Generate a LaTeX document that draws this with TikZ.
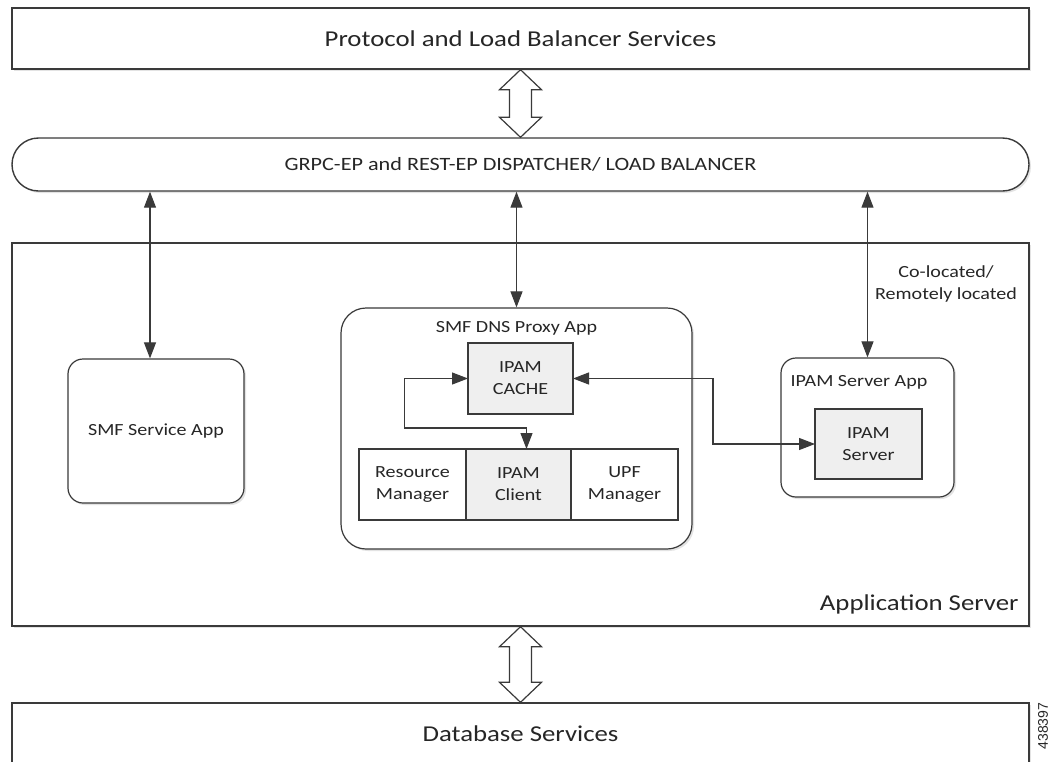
\documentclass[tikz,border=0pt]{standalone}
\usepackage{fontspec}
\setmainfont{Carlito}[FakeStretch=1.18]
\newfontfamily\idfont{Liberation Sans}
\usetikzlibrary{positioning,calc,arrows.meta,shadows}

\definecolor{linegray}{HTML}{3A3A3A}
\definecolor{fillgray}{HTML}{EFEFEF}
\definecolor{textgray}{HTML}{262626}

\tikzset{
  softshadow/.style={drop shadow={opacity=.22, shadow xshift=2pt, shadow yshift=-2pt}},
  bigbox/.style={draw=linegray, line width=1.4pt, fill=white, softshadow, minimum width=1017pt,
    inner sep=0pt, text=textgray, font=\fontsize{22.7}{26}\selectfont},
  appbox/.style={draw=linegray, line width=1.2pt, fill=white, softshadow, rounded corners=15pt,
    text=textgray, font=\fontsize{17}{22}\selectfont},
  apptitle/.style={inner sep=0pt, align=center, text=textgray, font=\fontsize{17}{22}\selectfont},
  ipambox/.style={draw=linegray, line width=1.2pt, fill=fillgray, minimum width=105pt, minimum height=71pt,
    inner sep=0pt, outer sep=0pt, align=center, text=textgray, font=\fontsize{17}{22}\selectfont},
  mgrbox/.style={ipambox, fill=white, minimum width=107pt},
  biarrow/.style={draw=linegray, line width=1.1pt, >={Triangle[length=16pt,width=12pt]}, <->},
  fatarrowline/.style={draw=linegray, line width=1.2pt, fill=white, line join=miter},
}

\newcommand{\fatarrow}[2]{%
  \draw[fatarrowline] let \p1=(#1), \p2=(#2) in
    (\p1) -- (\x1+21pt,\y1-20pt) -- (\x1+11pt,\y1-20pt) -- (\x1+11pt,\y2+20pt)
    -- (\x1+21pt,\y2+20pt) -- (\p2) -- (\x1-21pt,\y2+20pt) -- (\x1-11pt,\y2+20pt)
    -- (\x1-11pt,\y1-20pt) -- (\x1-21pt,\y1-20pt) -- cycle;}

\begin{document}
\begin{tikzpicture}[x=1pt,y=-1pt]
\useasboundingbox (0,0) rectangle (1050,761);
\clip (0,0) rectangle (1050,761);

\node[bigbox, minimum height=61pt] (proto) at (520.5,38.5) {Protocol and Load Balancer Services};
\node[bigbox, minimum height=53pt, rounded corners=26.5pt, font=\fontsize{18.8}{22}\selectfont] (disp) at (520.5,164.5)
  {GRPC-EP and REST-EP DISPATCHER/ LOAD BALANCER};
\node[bigbox, minimum height=383pt] (appsrv) at (520.5,434.5) {};
\node[apptitle, anchor=base east, font=\fontsize{22.7}{26}\selectfont] (appsrvlbl)
  at ([xshift=-11pt,yshift=16pt]appsrv.south east) {Application Server};
\node[bigbox, minimum height=62pt] (db) at (520.5,734) {Database Services};

\fatarrow{proto.south}{disp.north}
\fatarrow{appsrv.south}{db.north}

% apps inside the application server
\node[appbox, minimum width=176pt, minimum height=144pt] (smfapp) at (156,431) {SMF Service App};

\node[appbox, rounded corners=25pt, minimum width=351pt, minimum height=241pt] (proxy) at (516.5,428.5) {};
\node[apptitle] (proxytitle) at ([yshift=-21pt]proxy.north) {SMF DNS Proxy App};
\node[ipambox] (cache) at (520.5,378.5) {IPAM\\CACHE};
\node[ipambox] (client) at (518.5,484.5) {IPAM\\Client};
\node[mgrbox, left=0pt of client] (resmgr) {Resource\\Manager};
\node[mgrbox, right=0pt of client] (upfmgr) {UPF\\Manager};

\node[appbox, minimum width=173pt, minimum height=139pt] (srvapp) at (867.5,427.5) {};
\node[apptitle] (srvtitle) at (859,382) {IPAM Server App};
\node[ipambox, minimum width=107pt, minimum height=70pt] (server) at (868.5,444) {IPAM\\Server};

\node[apptitle] (colocated) at (946,283.5) {Co-located/\\Remotely located};

\node[rotate=90, inner sep=0pt, text=textgray, font=\idfont\fontsize{14}{17}\selectfont] (figid) at (1043,726) {438397};

% connectors
\draw[biarrow] ([xshift=-6pt]smfapp.north |- disp.south) -- ([xshift=-6pt]smfapp.north);
\draw[biarrow] (proxy.north |- disp.south) -- (proxy.north);
\draw[biarrow] (srvapp.north |- disp.south) -- (srvapp.north);
\draw[biarrow] (cache.east) -- ++(140,0) |- (server.west);
\draw[biarrow] ([xshift=8pt]client.north) -- ++(0,-21) -- ++(-122,0) |- (cache.west);

\end{tikzpicture}
\end{document}
